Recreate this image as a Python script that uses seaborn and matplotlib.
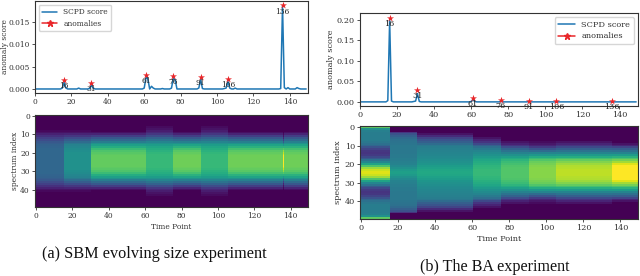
import numpy as np
import pandas as pd
import seaborn as sns
import matplotlib.pyplot as plt
from matplotlib.lines import Line2D

W, H = 640, 276

# anomalie-Zeitpunkte (beide Experimente gleich)
anomaly_t = [16, 31, 61, 76, 91, 106, 136]

# SBM: Markerhöhen und kleine Nebenspitzen
sbm_marker = [0.0020, 0.0013, 0.0031, 0.0030, 0.0027, 0.0023, 0.0187]
sbm_peak_t = [15, 16, 17, 24, 30, 31, 32, 60, 61, 62, 64, 65, 70, 75, 76, 77,
              90, 91, 92, 104, 105, 106, 107, 110, 135, 136, 137, 139, 144, 145]
sbm_peak_v = [0.0002, 0.0015, 0.0002, 0.0002, 0.0001, 0.0008, 0.0002, 0.0002, 0.0026, 0.0023,
              0.0006, 0.0002, 0.0001, 0.0002, 0.0024, 0.0021, 0.0002, 0.0021, 0.0001, 0.0001,
              0.0002, 0.0017, 0.0002, 0.0002, 0.0001, 0.0186, 0.0003, 0.0003, 0.0003, 0.0001]

# BA
ba_marker = [0.205, 0.028, 0.010, 0.005, 0.003, 0.002, 0.002]
ba_peak_t = [15, 16, 17, 29, 30, 31, 32, 60, 61, 62, 76, 91]
ba_peak_v = [0.003, 0.198, 0.002, 0.001, 0.002, 0.020, 0.001, 0.001, 0.006, 0.001, 0.001, 0.001]

# Spektren: Zeilen 0..24, untere Hälfte ist gespiegelt
sbm_breaks = [0, 16, 31, 61, 76, 91, 106, 136, 137, 150]
sbm_a = [0, 0, 0, 0, 0, 0, 0, 0, .02, .05, .09, .14, .19, .23, .27, .29, .31, .32, .33, .33, .33, .33, .33, .33, .33]
sbm_b = [0, 0, 0, 0, 0, 0, 0, 0, .02, .05, .10, .16, .23, .29, .35, .40, .44, .46, .48, .49, .50, .50, .50, .50, .50]
sbm_c = [0, 0, 0, 0, 0, 0, 0, 0, 0, .04, .10, .18, .27, .34, .42, .50, .56, .62, .68, .72, .74, .75, .76, .76, .76]
sbm_d = [0, 0, 0, 0, 0, 0, .03, .05, .08, .11, .16, .23, .31, .38, .45, .50, .55, .59, .62, .64, .66, .67, .67, .67, .67]
sbm_e = [0, 0, 0, 0, 0, 0, 0, 0, 0, .04, .10, .18, .27, .35, .43, .51, .58, .64, .70, .74, .76, .77, .78, .78, .78]
sbm_h = [0, 0, 0, 0, 0, 0, 0, 0, 0, 0, .02, .05, .10, .18, .28, .40, .52, .64, .74, .85, .92, .97, 1.0, 1.0, 1.0]
sbm_columns = [sbm_a, sbm_b, sbm_c, sbm_d, sbm_e, sbm_d, sbm_e, sbm_h, sbm_e]

ba_breaks = [0, 16, 31, 61, 76, 91, 106, 136, 150]
ba_a = [.75, .50, .43, .42, .42, .42, .42, .42, .40, .37, .33, .26, .20, .16, .15, .17, .22, .28, .38, .46, .58, .72, .85, .92, .95]
ba_b = [0, 0, 0, .15, .25, .30, .34, .37, .38, .39, .40, .40, .40, .40, .40, .41, .41, .42, .42, .43, .44, .47, .50, .54, .56]
ba_c = [0, 0, 0, 0, .05, .12, .20, .26, .30, .35, .40, .42, .43, .44, .45, .46, .47, .48, .49, .50, .52, .55, .57, .59, .60]
ba_d = [0, 0, 0, 0, 0, 0, .05, .10, .15, .22, .30, .36, .41, .45, .48, .51, .54, .57, .59, .61, .63, .65, .66, .67, .67]
ba_e = [0, 0, 0, 0, 0, 0, 0, 0, .05, .09, .15, .23, .31, .38, .44, .50, .56, .61, .65, .68, .70, .72, .73, .73, .73]
ba_f = [0, 0, 0, 0, 0, 0, 0, 0, .03, .06, .10, .17, .26, .35, .45, .53, .61, .68, .73, .77, .79, .81, .82, .82, .82]
ba_g = [0, 0, 0, 0, 0, 0, 0, 0, .05, .10, .15, .22, .30, .38, .45, .54, .62, .70, .76, .81, .85, .88, .89, .90, .90]
ba_h = [0, 0, 0, 0, 0, 0, 0, 0, 0, .05, .10, .20, .29, .37, .45, .55, .64, .72, .79, .86, .95, 1.0, 1.0, 1.0, 1.0]
ba_columns = [ba_a, ba_b, ba_c, ba_d, ba_e, ba_f, ba_g, ba_h]

time_ticks = [0, 20, 40, 60, 80, 100, 120, 140]
index_ticks = [0, 10, 20, 30, 40]

sns.set_theme(style="ticks")
plt.rcParams["font.family"] = ["DejaVu Serif"]
plt.rcParams["axes.linewidth"] = 0.8
plt.rcParams["axes.edgecolor"] = "#333333"
plt.rcParams["xtick.color"] = "#333333"
plt.rcParams["ytick.color"] = "#333333"
plt.rcParams["text.color"] = "#333333"
plt.rcParams["axes.labelcolor"] = "#333333"


def pixel_axes(fig, left, top, right, bottom):
    return fig.add_axes([left / W, 1 - bottom / H, (right - left) / W, (bottom - top) / H])


def score_series(peak_t, peak_v):
    score = np.zeros(150)
    score[peak_t] = peak_v
    return pd.DataFrame({"t": np.arange(150), "score": score})


def plot_score(ax, peak_t, peak_v, marker_v, ylim, yticks, yfmt, legend_loc, fs, label_x):
    sns.lineplot(data=score_series(peak_t, peak_v), x="t", y="score", ax=ax, color="#1f77b4", lw=1.1)
    sns.scatterplot(x=anomaly_t, y=marker_v, ax=ax, marker="*", color="#e8262a", s=28,
                    linewidth=0, zorder=4)
    for t, v in zip(anomaly_t, marker_v):
        ax.annotate(str(t), (t, v), xytext=(0, -4.4), textcoords="offset points",
                    ha="center", va="center", fontsize=fs, color="#222222", zorder=5)
    ax.set_xlim(0, 150)
    ax.set_ylim(*ylim)
    ax.set_xticks(time_ticks)
    ax.set_yticks(yticks)
    ax.set_yticklabels([yfmt % v for v in yticks])
    ax.tick_params(length=2.2, width=0.6, labelsize=fs, pad=1.5)
    ax.set_xlabel("")
    ax.set_ylabel("anomaly score", fontsize=fs)
    ax.yaxis.set_label_coords(label_x, 0.5)
    handles = [Line2D([], [], color="#1f77b4", lw=1.1),
               Line2D([], [], color="#e8262a", lw=1.1, marker="*", ms=4.5)]
    ax.legend(handles, ["SCPD score", "anomalies"], loc=legend_loc, fontsize=fs,
              fancybox=True, framealpha=0.8, borderpad=0.45, labelspacing=0.45)


def plot_spectrum(ax, columns, breaks, fs, label_x):
    half = np.array(columns).T
    full = np.vstack([half, half[::-1]])
    matrix = np.repeat(full, np.diff(breaks), axis=1)
    sns.heatmap(matrix, ax=ax, cmap="viridis", vmin=0, vmax=1, cbar=False,
                xticklabels=False, yticklabels=False, rasterized=True)
    for s in ax.spines.values():
        s.set_visible(True)
    ax.set_xticks(np.array(time_ticks) + 0.5)
    ax.set_xticklabels(time_ticks, rotation=0)
    ax.set_yticks(np.array(index_ticks) + 0.5)
    ax.set_yticklabels(index_ticks, rotation=0)
    ax.tick_params(length=2.2, width=0.6, labelsize=fs, pad=1.5)
    ax.set_xlabel("Time Point", fontsize=fs, labelpad=2)
    ax.set_ylabel("spectrum index", fontsize=fs)
    ax.yaxis.set_label_coords(label_x, 0.5)


fig = plt.figure(figsize=(W / 100, H / 100), dpi=100)

ax1 = pixel_axes(fig, 35, 1, 308, 93)
plot_score(ax1, sbm_peak_t, sbm_peak_v, sbm_marker, (-0.0009, 0.0197),
           [0, 0.005, 0.010, 0.015], "%.3f", "upper left", 5.4, -26 / 273)
ax2 = pixel_axes(fig, 35, 115, 308, 207)
plot_spectrum(ax2, sbm_columns, sbm_breaks, 5.4, -16 / 273)

ax3 = pixel_axes(fig, 360, 13, 638, 106)
plot_score(ax3, ba_peak_t, ba_peak_v, ba_marker, (-0.01, 0.216),
           [0, 0.05, 0.10, 0.15, 0.20], "%.2f", "upper right", 5.9, -25 / 278)
ax4 = pixel_axes(fig, 360, 126, 638, 219)
plot_spectrum(ax4, ba_columns, ba_breaks, 5.9, -18 / 278)

fig.text(154.5 / W, 1 - 254 / H, "(a) SBM evolving size experiment", family="Liberation Serif",
         fontsize=11.7, color="#111111", ha="center", va="center")
fig.text(495 / W, 1 - 267 / H, "(b) The BA experiment", family="Liberation Serif",
         fontsize=11.6, color="#111111", ha="center", va="center")

fig.savefig("out.png", dpi=100)
